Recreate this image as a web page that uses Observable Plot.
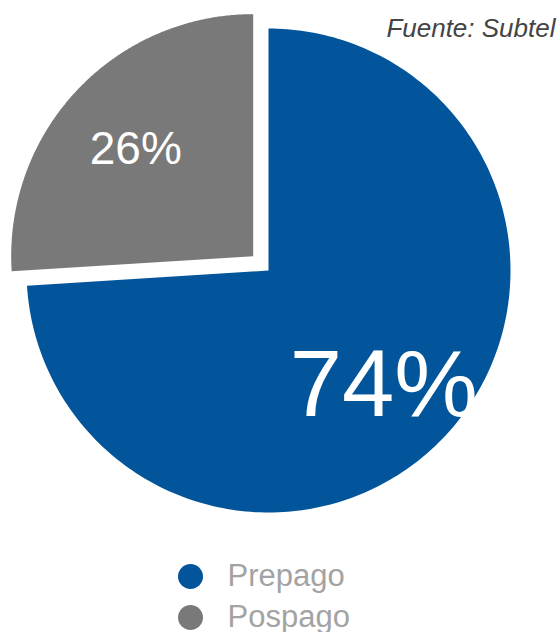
<!DOCTYPE html>
<html><head><meta charset="utf-8">
<script src="https://cdn.jsdelivr.net/npm/d3@7"></script>
<script src="https://cdn.jsdelivr.net/npm/@observablehq/plot@0.6"></script>
<style>body{margin:0;background:#fff;font-family:"Liberation Sans",Arial,sans-serif}</style>
</head><body><div id="chart"></div>
<script>
const categories = ["Prepago", "Pospago"];
const values = [74, 26];
const valueLabels = ["74%", "26%"];
const colors = ["#02559A", "#797979"];
const source = "Fuente: Subtel";

// layout
const W = 560, H = 632, cx = 268, cy = 270, R = 242;
const explode = [0, 21];
const labelRadius = [0.67, 0.62];
const labelShift = [[-3, 4], [-8, -4]];
const labelSize = [94, 46];

const arcs = d3.pie().sort(null)(values);
const poly = [];
const labelData = [];
arcs.forEach((a, i) => {
  const mid = (a.startAngle + a.endAngle) / 2;
  const ccx = cx + explode[i] * Math.sin(mid), ccy = cy - explode[i] * Math.cos(mid);
  poly.push({cat: categories[i], x: ccx, y: ccy});
  const n = 240;
  for (let k = 0; k <= n; k++) {
    const t = a.startAngle + (a.endAngle - a.startAngle) * k / n;
    poly.push({cat: categories[i], x: ccx + R * Math.sin(t), y: ccy - R * Math.cos(t)});
  }
  poly.push({cat: categories[i], x: ccx, y: ccy});
  labelData.push({
    label: valueLabels[i],
    x: ccx + labelRadius[i] * R * Math.sin(mid) + labelShift[i][0],
    y: ccy - labelRadius[i] * R * Math.cos(mid) + labelShift[i][1],
    size: labelSize[i]
  });
});

const legend = categories.map((c, i) => ({cat: c, x: 190, y: 576 + i * 41}));

const chart = Plot.plot({
  width: W, height: H,
  margin: 0,
  x: {domain: [0, W], axis: null},
  y: {domain: [0, H], axis: null, reverse: true},
  color: {domain: categories, range: colors},
  style: {fontFamily: '"Liberation Sans", Arial, sans-serif', background: "#fff"},
  marks: [
    Plot.line(poly, {x: "x", y: "y", z: "cat", fill: "cat", stroke: null, curve: "linear"}),
    Plot.text(labelData, {x: "x", y: "y", text: "label", fill: "white", fontSize: d => d.size, textAnchor: "middle", lineAnchor: "middle"}),
    Plot.text([source], {x: () => 555, y: () => 28, text: d => d, textAnchor: "end", lineAnchor: "middle", fontSize: 26, fontStyle: "italic", fill: "#444"}),
    Plot.dot(legend, {x: "x", y: "y", fill: "cat", r: 12.5, stroke: null}),
    Plot.text(legend, {x: d => d.x + 37, y: "y", text: "cat", textAnchor: "start", lineAnchor: "middle", fontSize: 31, fill: "#a3a3a3"})
  ]
});
document.getElementById("chart").appendChild(chart);
</script>
</body></html>
